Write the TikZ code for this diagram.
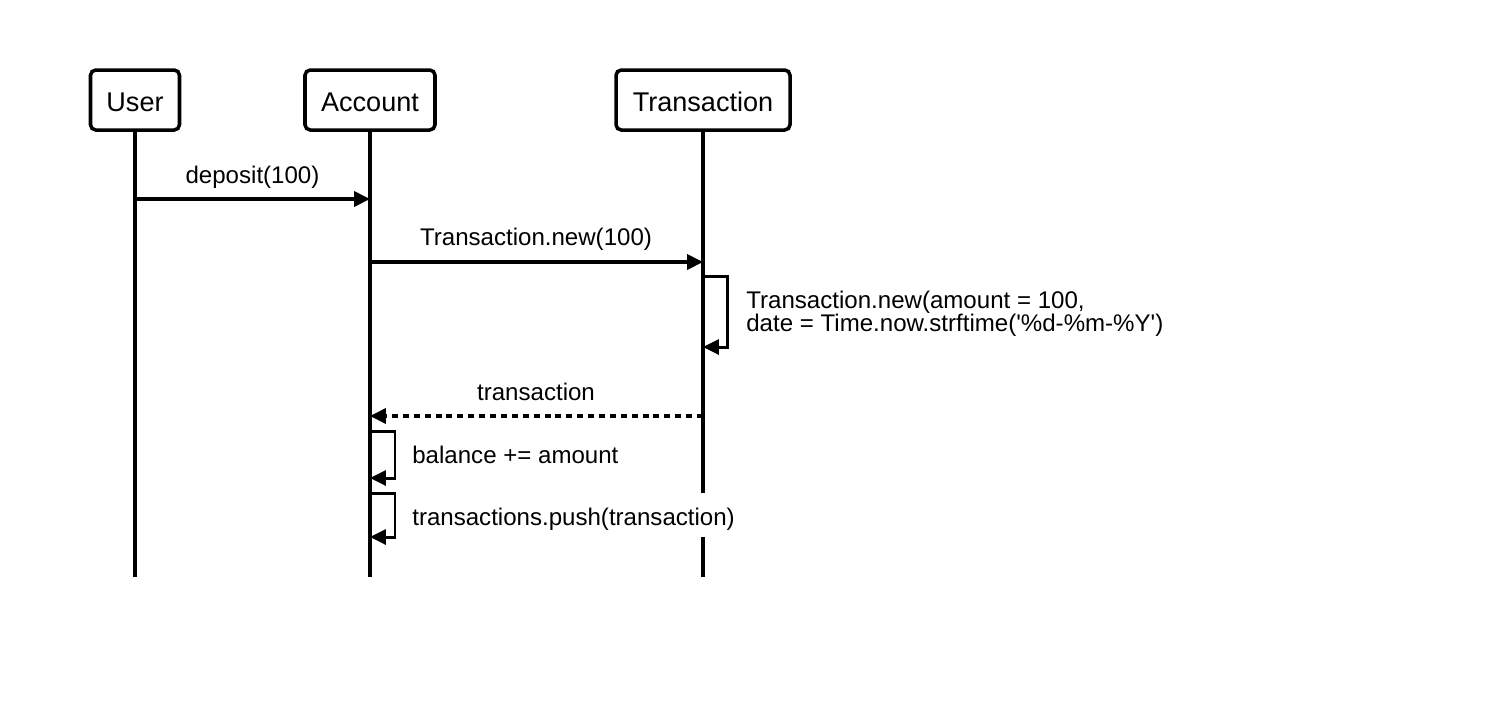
\documentclass[tikz,border=0pt]{standalone}
\usepackage{fontspec}
\setmainfont{Liberation Sans}
\usetikzlibrary{arrows.meta}
\newcommand{\lowtext}[2]{\raisebox{-#1}[0pt][0pt]{#2}}
\begin{document}
\begin{tikzpicture}[x=0.02cm,y=-0.02cm,
  actor/.style={draw,line width=2pt,rounded corners=3pt,fill=white,font=\fontsize{15.4}{18}\selectfont,inner sep=0pt,minimum height=60*0.02cm},
  life/.style={line width=2pt},
  msg/.style={line width=2pt,-{Triangle[length=9pt,width=8.5pt]}},
  selfmsg/.style={line width=1.7pt,-{Triangle[length=9pt,width=8.5pt]}},
  ret/.style={msg,dash pattern=on 3.4pt off 2.8pt},
  lbl/.style={font=\fontsize{13.7}{14}\selectfont,inner sep=0pt}]
\useasboundingbox (0,0) rectangle (1504,708);
% lifelines
\coordinate (ue) at (135,577);
\coordinate (ae) at (370,577);
\coordinate (te) at (703,577);
\node[actor,minimum width=89*0.02cm] (user) at (135,100) {\lowtext{6.6pt}{User}};
\node[actor,minimum width=130*0.02cm] (acc) at (370,100) {\lowtext{6.6pt}{Account}};
\node[actor,minimum width=174*0.02cm] (tra) at (703,100) {\lowtext{6.6pt}{Transaction}};
\draw[life] (user.south) -- (ue);
\draw[life] (acc.south) -- (ae);
\draw[life] (tra.south) -- (te);
% message coordinates
\coordinate (m1a) at (135,199); \coordinate (m1b) at (370,199);
\coordinate (m2a) at (370,262); \coordinate (m2b) at (703,262);
\coordinate (s1a) at (703,276); \coordinate (s1r) at (727,276); \coordinate (s1b) at (703,347);
\coordinate (m3a) at (703,416); \coordinate (m3b) at (370,416);
\coordinate (s2a) at (370,431); \coordinate (s2r) at (395,431); \coordinate (s2b) at (370,478);
\coordinate (s3a) at (370,493); \coordinate (s3r) at (395,493); \coordinate (s3b) at (370,537);
% labels
\node[lbl] (l1) at (252.5,177) {deposit(100)};
\node[lbl] (l2) at (536,239) {Transaction.new(100)};
\node[lbl,anchor=west,align=left] (l3) at (746,314) {Transaction.new(amount = 100,\\[-1pt]date = Time.now.strftime(\textquotesingle\%d-\%m-\%Y\textquotesingle)};
\node[lbl] (l4) at (536,392) {transaction};
\node[lbl,anchor=west] (l5) at (412,455) {balance += amount};
\node[lbl,anchor=west,fill=white,minimum height=44*0.02cm] (l6) at (412,515) {\lowtext{6pt}{transactions.push(transaction)}};
% messages
\draw[msg] (m1a) -- (m1b);
\draw[msg] (m2a) -- (m2b);
\draw[selfmsg] (s1a) -- (s1r) |- (s1b);
\draw[ret] (m3a) -- (m3b);
\draw[selfmsg] (s2a) -- (s2r) |- (s2b);
\draw[selfmsg] (s3a) -- (s3r) |- (s3b);
\end{tikzpicture}
\end{document}
